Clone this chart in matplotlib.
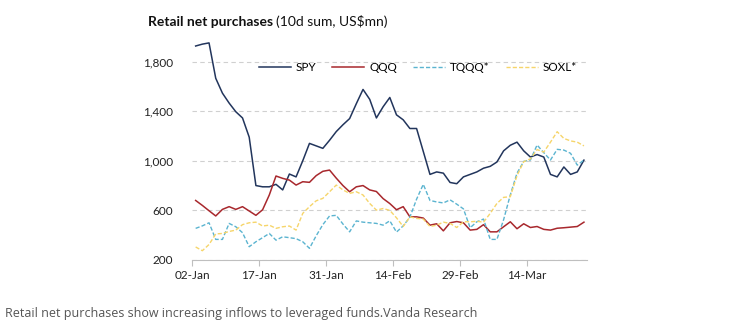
#!/usr/bin/env python3
import matplotlib
matplotlib.use("Agg")
import matplotlib.pyplot as plt
import numpy as np

# trading days 02-Jan .. 26-Mar, tick label every 10th day
tick_labels = ["02-Jan", "17-Jan", "31-Jan", "14-Feb", "29-Feb", "14-Mar"]

spy = [1925, 1940, 1950, 1665, 1545, 1465, 1395, 1345, 1190, 800,
       790, 790, 810, 765, 893, 870, 1000, 1140, 1120, 1100,
       1165, 1235, 1290, 1340, 1460, 1575, 1495, 1345, 1435, 1510,
       1370, 1330, 1260, 1260, 1075, 890, 910, 900, 825, 815,
       870, 890, 910, 940, 955, 990, 1080, 1125, 1150, 1080,
       1030, 1050, 1030, 890, 870, 950, 890, 910, 1005]
qqq = [680, 640, 597, 555, 608, 630, 608, 630, 595, 560,
       605, 724, 877, 858, 844, 804, 831, 826, 880, 915,
       925, 860, 800, 750, 790, 800, 765, 752, 695, 655,
       605, 630, 548, 548, 538, 481, 492, 435, 500, 510,
       500, 441, 447, 485, 427, 427, 468, 508, 452, 492,
       462, 470, 447, 441, 456, 460, 465, 470, 505]
tqqq = [455, 475, 500, 366, 366, 495, 468, 420, 307, 347,
        380, 414, 360, 387, 380, 372, 347, 294, 395, 485,
        555, 560, 490, 427, 515, 505, 500, 495, 481, 516,
        425, 475, 545, 690, 810, 680, 668, 660, 685, 650,
        612, 460, 508, 530, 366, 366, 525, 725, 900, 995,
        1006, 1127, 1065, 1006, 1092, 1086, 1060, 965, 1006]
soxl = [305, 275, 325, 410, 414, 430, 441, 485, 500, 505,
        474, 481, 455, 468, 474, 441, 576, 630, 677, 697,
        750, 804, 765, 737, 750, 724, 656, 602, 615, 600,
        540, 470, 548, 535, 530, 470, 481, 505, 495, 462,
        508, 508, 512, 505, 576, 656, 705, 710, 880, 992,
        1015, 1090, 1070, 1150, 1234, 1180, 1160, 1150, 1120]

plt.rcParams['font.family'] = ['Lato', 'DejaVu Sans']

fig = plt.figure(figsize=(7.56, 3.25), dpi=100)
ax = fig.add_axes([192.3 / 756, 65 / 325, 395 / 756, 223.3 / 325])

x = np.arange(len(spy))
ax.plot(x, spy, color="#22355c", lw=1.1, label="SPY")
ax.plot(x, qqq, color="#a8282d", lw=1.1, label="QQQ")
ax.plot(x, tqqq, color="#5bb4d0", lw=1.0, ls=(0, (3, 1.5)), label="TQQQ*")
ax.plot(x, soxl, color="#f6d56a", lw=1.0, ls=(0, (3, 1.5)), label="SOXL*")

ax.set_xlim(-0.5, len(spy) - 0.5)
ax.set_ylim(200, 2000)
ax.set_yticks([200, 600, 1000, 1400, 1800])
ax.set_yticklabels(["200", "600", "1,000", "1,400", "1,800"])
ax.yaxis.grid(True, color="#d0d0d0", ls=(0, (4, 3)), lw=0.8)
ax.set_axisbelow(True)
ax.tick_params(axis="y", length=0, pad=14, labelsize=8.5, labelcolor="#222222")

ax.set_xticks(np.arange(len(tick_labels)) * 10 - 0.5)
ax.set_xticklabels(tick_labels)
ax.tick_params(axis="x", length=4, color="#bfbfbf", pad=3, labelsize=8.5, labelcolor="#222222")

for s in ["top", "right", "left"]:
    ax.spines[s].set_visible(False)
ax.spines["bottom"].set_color("#bfbfbf")

ax.legend(ncol=4, loc="center", bbox_to_anchor=(0.571, 0.86), frameon=False,
          fontsize=8.5, handlelength=2.7, handletextpad=0.4, columnspacing=1.4)

t1 = fig.text(148 / 756, 1 - 22 / 325, "Retail net purchases", fontsize=10,
              fontweight="bold", va="center", color="#111111")
fig.canvas.draw()
bb = t1.get_window_extent()
fig.text((bb.x1 + 3) / 756, 1 - 22 / 325, "(10d sum, US$mn)", fontsize=10,
         va="center", color="#111111")

fig.text(5 / 756, 1 - 314 / 325,
         "Retail net purchases show increasing inflows to leveraged funds.Vanda Research",
         fontsize=9, family="Open Sans", color="#555555", va="center")

plt.savefig("out.png", dpi=100)
plt.close()
